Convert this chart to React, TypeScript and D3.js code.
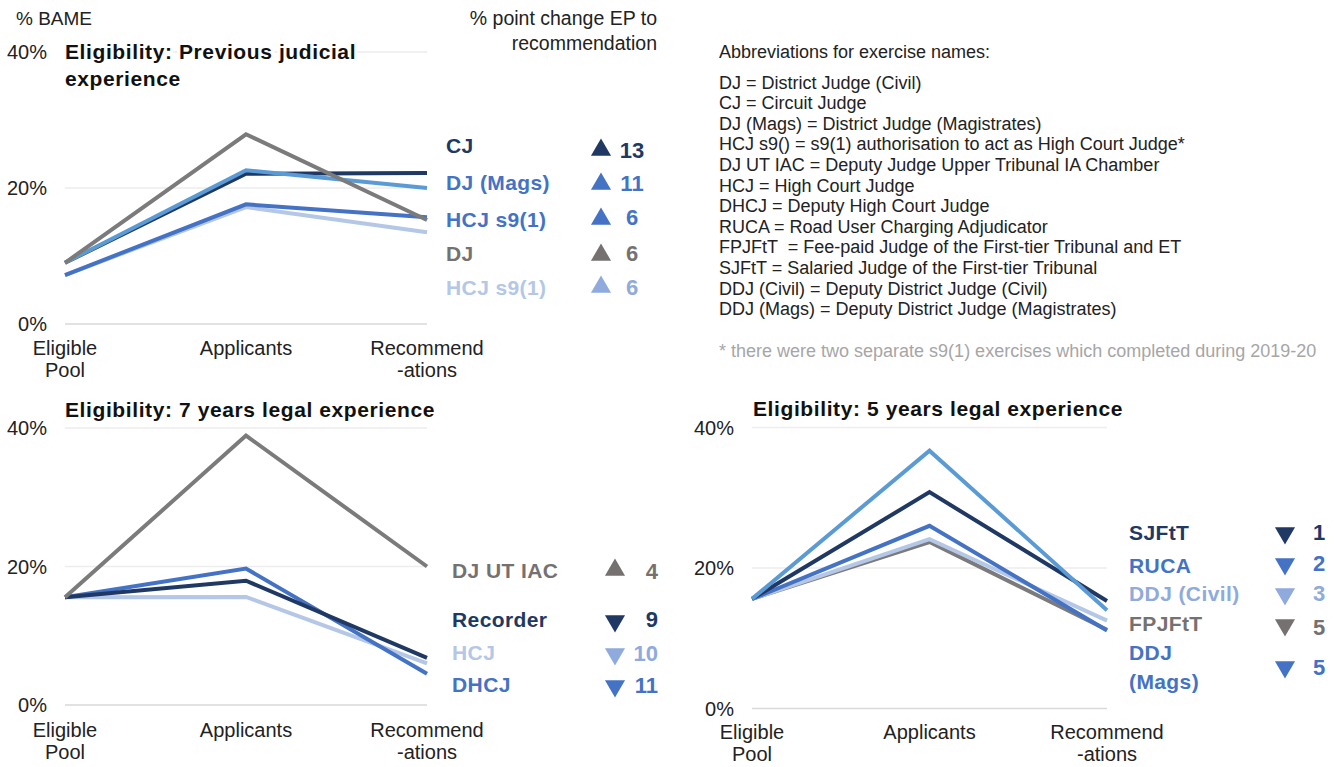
import React from "react";
import * as d3 from "d3";

// ---------- DATA ----------
const categories = ["Eligible Pool", "Applicants", "Recommendations"];
const categoryLines = [["Eligible", "Pool"], ["Applicants"], ["Recommend", "-ations"]];
const yTicks = [0, 20, 40];

// Panel 1: Previous judicial experience
const pjeNames = ["HCJ s9(1)", "HCJ s9(1)", "CJ", "DJ (Mags)", "DJ"];
const pjeKeys = ["hcjB", "hcjA", "cj", "djMags", "dj"];
const pjeValues = [
  [7.2, 17.2, 13.5],
  [7.2, 17.6, 15.7],
  [9.0, 22.1, 22.2],
  [9.0, 22.6, 20.0],
  [9.0, 27.9, 15.3],
];
const pjeLegendOrder = ["cj", "djMags", "hcjA", "dj", "hcjB"];
const pjeChange = [13, 11, 6, 6, 6];
const pjeUp = [true, true, true, true, true];

// Panel 2: 7 years legal experience
const sevenNames = ["HCJ", "DHCJ", "Recorder", "DJ UT IAC"];
const sevenKeys = ["hcj", "dhcj", "recorder", "djut"];
const sevenValues = [
  [15.55, 15.6, 6.0],
  [15.55, 19.7, 4.5],
  [15.55, 17.95, 6.8],
  [15.55, 38.9, 20.0],
];
const sevenLegendOrder = ["djut", "recorder", "hcj", "dhcj"];
const sevenChange = [4, 9, 10, 11];
const sevenUp = [true, false, false, false];

// Panel 3: 5 years legal experience
const fiveNames = ["FPJFtT", "DDJ (Civil)", "DDJ (Mags)", "SJFtT", "RUCA"];
const fiveKeys = ["fpj", "ddjCivil", "ddjMags", "sjftt", "ruca"];
const fiveValues = [
  [15.6, 23.7, 11.2],
  [15.6, 24.1, 12.5],
  [15.6, 26.0, 11.1],
  [15.6, 30.8, 15.3],
  [15.6, 36.7, 14.0],
];
const fiveLegendOrder = ["sjftt", "ruca", "ddjCivil", "fpj", "ddjMags"];
const fiveChange = [1, 2, 3, 5, 5];
const fiveUp = [false, false, false, false, false];

const abbreviations = [
  "DJ = District Judge (Civil)",
  "CJ = Circuit Judge",
  "DJ (Mags) = District Judge (Magistrates)",
  "HCJ s9() = s9(1) authorisation to act as High Court Judge*",
  "DJ UT IAC = Deputy Judge Upper Tribunal IA Chamber",
  "HCJ = High Court Judge",
  "DHCJ = Deputy High Court Judge",
  "RUCA = Road User Charging Adjudicator",
  "FPJFtT  = Fee-paid Judge of the First-tier Tribunal and ET",
  "SJFtT = Salaried Judge of the First-tier Tribunal",
  "DDJ (Civil) = Deputy District Judge (Civil)",
  "DDJ (Mags) = Deputy District Judge (Magistrates)",
];

// ---------- STYLES ----------
const NAVY = "#203864";
const MED = "#4472C4";
const LIGHT = "#5B9BD5";
const PALE = "#B4C7E7";
const PALE_MARK = "#8FAADC";
const GRAY = "#7B7B7B";
const GRAY_TXT = "#767171";
const FONT = "'Liberation Sans', Arial, sans-serif";

const lineColor: Record<string, string> = {
  hcjB: PALE, hcjA: MED, cj: NAVY, djMags: LIGHT, dj: GRAY,
  hcj: PALE, dhcj: MED, recorder: NAVY, djut: GRAY,
  fpj: GRAY, ddjCivil: PALE, ddjMags: MED, sjftt: NAVY, ruca: LIGHT,
};
const textColor: Record<string, string> = {
  hcjB: PALE, hcjA: MED, cj: NAVY, djMags: MED, dj: GRAY_TXT,
  hcj: PALE, dhcj: MED, recorder: NAVY, djut: GRAY_TXT,
  fpj: GRAY_TXT, ddjCivil: PALE_MARK, ddjMags: MED, sjftt: NAVY, ruca: MED,
};
const markColor: Record<string, string> = {
  hcjB: PALE_MARK, hcjA: MED, cj: NAVY, djMags: MED, dj: GRAY_TXT,
  hcj: PALE_MARK, dhcj: MED, recorder: NAVY, djut: GRAY_TXT,
  fpj: GRAY_TXT, ddjCivil: PALE_MARK, ddjMags: MED, sjftt: NAVY, ruca: MED,
};
const numColor: Record<string, string> = {
  ...textColor, hcjB: PALE_MARK, hcj: PALE_MARK, ddjCivil: PALE_MARK,
};

type PanelProps = {
  x0: number; x1: number; yTop: number; yBottom: number;
  tickRight: number; catY: number;
  title: string[]; titleX: number; titleY: number;
  names: string[]; keys: string[]; values: number[][];
  legendOrder: string[]; change: number[]; up: boolean[];
  labelX: number; labelYs: number[]; labelLines?: Record<string, string[]>;
  markX: number; markYs: number[]; numX: number; numAnchor: "middle" | "end";
  numYs: number[];
};

const triangle = d3.symbol().type(d3.symbolTriangle).size(175)() as string;

function Panel(p: PanelProps) {
  const x = d3.scalePoint<string>().domain(categories).range([p.x0, p.x1]);
  const y = d3.scaleLinear().domain([0, 40]).range([p.yBottom, p.yTop]);
  const line = d3
    .line<number>()
    .x((_, i) => x(categories[i]) as number)
    .y((d) => y(d));
  return (
    <g>
      {yTicks.map((t) => (
        <g key={t}>
          <line x1={p.x0} x2={p.x1} y1={y(t)} y2={y(t)} stroke={t === 0 ? "#D9D9D9" : "#EDEDED"} strokeWidth={1.3} />
          <text x={p.tickRight} y={y(t) + 7} textAnchor="end" fontSize={20} fill="#222">{t + "%"}</text>
        </g>
      ))}
      {categoryLines.map((ls, i) => (
        <text key={i} x={x(categories[i])} y={p.catY} textAnchor="middle" fontSize={20} fill="#222">
          {ls.map((l, j) => (
            <tspan key={j} x={x(categories[i])} dy={j === 0 ? 0 : 22}>{l}</tspan>
          ))}
        </text>
      ))}
      {p.values.map((v, i) => (
        <path key={i} d={line(v) as string} fill="none" stroke={lineColor[p.keys[i]]} strokeWidth={4} strokeLinejoin="miter" />
      ))}
      {p.title.map((t, i) => (
        <text key={i} x={p.titleX} y={p.titleY + i * 27} fontSize={21} fontWeight="bold" letterSpacing={0.6} fill="#111" stroke="#fff" strokeWidth={6} paintOrder="stroke">{t}</text>
      ))}
      {p.legendOrder.map((k, i) => {
        const idx = p.keys.indexOf(k);
        const lines = p.labelLines && p.labelLines[k] ? p.labelLines[k] : [p.names[idx]];
        return (
          <g key={k}>
            <text x={p.labelX} y={p.labelYs[i] + 8} fontSize={21} letterSpacing={0.4} fontWeight="bold" fill={textColor[k]}>
              {lines.map((l, j) => (
                <tspan key={j} x={p.labelX} dy={j === 0 ? 0 : 29}>{l}</tspan>
              ))}
            </text>
            <path d={triangle} transform={`translate(${p.markX},${p.markYs[i] + 2}) rotate(${p.up[i] ? 0 : 180})`} fill={markColor[k]} />
            <text x={p.numX} y={p.numYs[i] + 8} textAnchor={p.numAnchor} fontSize={22} fontWeight="bold" fill={numColor[k]}>{p.change[i]}</text>
          </g>
        );
      })}
    </g>
  );
}

export default function App() {
  return (
    <svg width={1338} height={767} style={{ position: "absolute", left: 0, top: 0, background: "#fff" }} fontFamily={FONT}>
      <rect width={1338} height={767} fill="#fff" />
      <text x={16} y={25} fontSize={19} fill="#222">% BAME</text>
      <text x={657} y={25} textAnchor="end" fontSize={19.5} fill="#222">% point change EP to</text>
      <text x={657} y={50} textAnchor="end" fontSize={19.5} fill="#222">recommendation</text>

      <Panel
        x0={65} x1={427} yTop={52} yBottom={324} tickRight={47} catY={355}
        title={["Eligibility: Previous judicial", "experience"]} titleX={65} titleY={59}
        names={pjeNames} keys={pjeKeys} values={pjeValues}
        legendOrder={pjeLegendOrder} change={pjeChange} up={pjeUp}
        labelX={446} labelYs={[145, 182, 219, 253, 287]}
        markX={601} markYs={[148, 182, 217, 253, 285]}
        numX={632} numAnchor="middle" numYs={[150, 183, 217, 253, 287]}
      />
      <Panel
        x0={65} x1={427} yTop={428} yBottom={705} tickRight={47} catY={737}
        title={["Eligibility: 7 years legal experience"]} titleX={65} titleY={417}
        names={sevenNames} keys={sevenKeys} values={sevenValues}
        legendOrder={sevenLegendOrder} change={sevenChange} up={sevenUp}
        labelX={452} labelYs={[570, 619, 652, 684]}
        markX={615} markYs={[568, 619, 652, 684]}
        numX={658} numAnchor="end" numYs={[571, 619, 653, 685]}
      />
      <Panel
        x0={752} x1={1107} yTop={427.5} yBottom={708.5} tickRight={734} catY={739}
        title={["Eligibility: 5 years legal experience"]} titleX={753} titleY={416}
        names={fiveNames} keys={fiveKeys} values={fiveValues}
        legendOrder={fiveLegendOrder} change={fiveChange} up={fiveUp}
        labelX={1129} labelYs={[532, 565, 593, 623, 652]}
        labelLines={{ ddjMags: ["DDJ", "(Mags)"], ddjCivil: ["DDJ (Civil)"] }}
        markX={1285} markYs={[531, 562, 592, 623, 665]}
        numX={1319} numAnchor="middle" numYs={[532, 563, 593, 627, 667]}
      />

      <text x={719} y={58} fontSize={18} fill="#222">Abbreviations for exercise names:</text>
      {abbreviations.map((a, i) => (
        <text key={i} x={719} y={88.5 + i * 20.6} fontSize={18} fill="#222" style={{ whiteSpace: "pre" }}>{a}</text>
      ))}
      <text x={719} y={356.5} fontSize={18} fill="#A6A6A6">* there were two separate s9(1) exercises which completed during 2019-20</text>
    </svg>
  );
}
